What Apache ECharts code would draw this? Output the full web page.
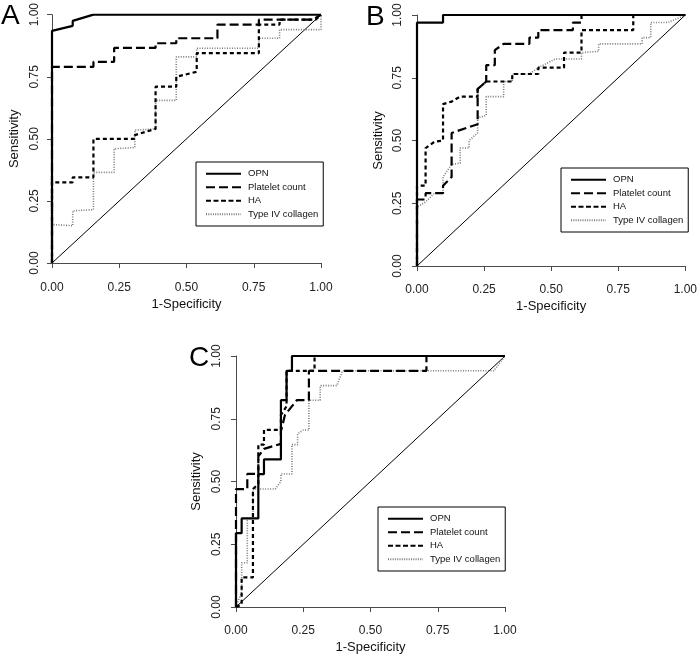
<!DOCTYPE html>
<html><head><meta charset="utf-8">
<script src="https://cdn.jsdelivr.net/npm/echarts@6/dist/echarts.min.js"></script>
<style>html,body{margin:0;padding:0;background:#fff}#c{width:700px;height:656px}</style>
</head><body><div id="c"></div>
<script>
const seriesNames = ['OPN', 'Platelet count', 'HA', 'Type IV collagen'];
const panelLetters = ['A', 'B', 'C'];
const xTitle = '1-Specificity';
const yTitle = 'Sensitivity';
const refLine = [[0, 0], [1, 1]];

// Panel A
const A_OPN = [[0,0],[0,0.935],[0.077,0.955],[0.077,0.975],[0.154,1],[1,1]];
const A_PLT = [[0,0],[0,0.79],[0.154,0.79],[0.154,0.81],[0.231,0.81],[0.231,0.866],[0.385,0.866],[0.385,0.885],[0.462,0.885],[0.462,0.905],[0.615,0.905],[0.615,0.96],[0.769,0.96],[0.769,0.98],[0.97,0.98],[1,1]];
const A_HA = [[0,0],[0,0.325],[0.077,0.325],[0.077,0.345],[0.154,0.345],[0.154,0.5],[0.308,0.5],[0.308,0.515],[0.385,0.54],[0.385,0.71],[0.462,0.71],[0.462,0.75],[0.538,0.77],[0.538,0.845],[0.769,0.845],[0.769,0.96],[0.846,0.96],[0.846,0.98],[0.98,0.98],[1,1]];
const A_T4 = [[0,0],[0,0.155],[0.077,0.15],[0.077,0.21],[0.154,0.215],[0.154,0.365],[0.231,0.365],[0.231,0.46],[0.308,0.465],[0.308,0.535],[0.385,0.54],[0.385,0.655],[0.462,0.655],[0.462,0.83],[0.538,0.83],[0.538,0.865],[0.769,0.865],[0.769,0.905],[0.846,0.905],[0.846,0.94],[1,0.94],[1,1]];

// Panel B
const B_OPN = [[0,0],[0,0.97],[0.097,0.97],[0.097,1],[1,1]];
const B_PLT = [[0,0],[0,0.265],[0.032,0.265],[0.032,0.29],[0.097,0.29],[0.097,0.32],[0.129,0.355],[0.129,0.53],[0.226,0.565],[0.226,0.705],[0.258,0.735],[0.258,0.8],[0.29,0.8],[0.29,0.86],[0.323,0.885],[0.419,0.885],[0.419,0.91],[0.452,0.91],[0.452,0.94],[0.581,0.94],[0.581,0.97],[0.613,0.97],[0.613,1],[1,1]];
const B_HA = [[0,0],[0,0.32],[0.032,0.32],[0.032,0.47],[0.065,0.495],[0.097,0.5],[0.097,0.645],[0.129,0.655],[0.161,0.675],[0.226,0.675],[0.226,0.705],[0.258,0.735],[0.355,0.735],[0.355,0.765],[0.452,0.765],[0.452,0.79],[0.548,0.79],[0.548,0.85],[0.613,0.85],[0.613,0.94],[0.806,0.94],[0.806,1],[1,1]];
const B_T4 = [[0,0],[0,0.235],[0.032,0.255],[0.065,0.29],[0.097,0.29],[0.097,0.355],[0.129,0.405],[0.161,0.41],[0.161,0.47],[0.194,0.47],[0.194,0.5],[0.226,0.53],[0.226,0.59],[0.258,0.6],[0.258,0.675],[0.323,0.675],[0.323,0.735],[0.355,0.735],[0.355,0.765],[0.419,0.765],[0.452,0.79],[0.516,0.825],[0.613,0.825],[0.613,0.85],[0.677,0.855],[0.677,0.885],[0.839,0.885],[0.839,0.91],[0.871,0.91],[0.871,0.97],[0.935,0.97],[1,1]];

// Panel C
const C_OPN = [[0,0],[0,0.294],[0.021,0.294],[0.021,0.353],[0.083,0.353],[0.083,0.529],[0.104,0.529],[0.104,0.588],[0.167,0.588],[0.167,0.824],[0.188,0.824],[0.188,0.941],[0.208,0.941],[0.208,1],[1,1]];
const C_PLT = [[0,0],[0,0.47],[0.042,0.47],[0.042,0.53],[0.083,0.53],[0.083,0.6],[0.104,0.63],[0.167,0.65],[0.167,0.7],[0.182,0.765],[0.226,0.824],[0.271,0.824],[0.271,0.941],[0.708,0.941],[0.708,1],[1,1]];
const C_HA = [[0,0],[0.021,0.01],[0.021,0.118],[0.063,0.118],[0.063,0.47],[0.083,0.49],[0.083,0.647],[0.104,0.647],[0.104,0.706],[0.167,0.706],[0.167,0.765],[0.188,0.8],[0.188,0.941],[0.292,0.941],[0.292,1],[1,1]];
const C_T4 = [[0,0],[0.021,0.06],[0.021,0.176],[0.042,0.176],[0.042,0.353],[0.063,0.353],[0.063,0.47],[0.146,0.47],[0.167,0.5],[0.167,0.53],[0.208,0.53],[0.208,0.647],[0.229,0.647],[0.229,0.69],[0.25,0.705],[0.271,0.705],[0.271,0.824],[0.313,0.824],[0.313,0.882],[0.375,0.882],[0.396,0.941],[0.958,0.941],[1,1]];

const panelData = [
  [A_OPN, A_PLT, A_HA, A_T4],
  [B_OPN, B_PLT, B_HA, B_T4],
  [C_OPN, C_PLT, C_HA, C_T4]
];

const FONT = 'Liberation Sans, Arial, Helvetica, sans-serif';
const grids = [
  {left: 52, top: 12, width: 269, height: 251},
  {left: 417, top: 15, width: 270, height: 251},
  {left: 236, top: 356, width: 269, height: 251}
];
const axOff = [{x: 10, y: 5, m: 6, g: 26}, {x: 9, y: 4, m: 9, g: 28}, {x: 9, y: 5, m: 8, g: 28}];
const legendPos = [{left: 196, top: 162}, {left: 561, top: 168}, {left: 378, top: 507}];
const letterPos = [{left: 1, top: 2}, {left: 366, top: 3}, {left: 189, top: 344}];

const styles = [
  {color: '#000', width: 2.2, type: 'solid'},
  {color: '#000', width: 2.2, type: [9, 4]},
  {color: '#000', width: 2.2, type: [4, 3]},
  {color: '#7a7a7a', width: 1.6, type: [1, 1.5]}
];

// legend sample icons (35 x 2 px) mimicking each line pattern
function dashPath(dash, gap, h) {
  let p = '', x = 0;
  while (x < 35 - 0.01) {
    const w = Math.min(dash, 35 - x);
    p += 'M' + x.toFixed(2) + ',0h' + w.toFixed(2) + 'v' + h + 'h-' + w.toFixed(2) + 'z';
    x += dash + gap;
  }
  return 'path://' + p;
}
const legendIcons = [
  dashPath(35, 0, 2),
  dashPath(9, 4, 2),
  dashPath(5, 2.5, 2),
  dashPath(1, 1.3, 2)
];

const axisColor = '#4a4a4a';
function mkX(i) {
  return {
    type: 'value', gridIndex: i, min: 0, max: 1, interval: 0.25, offset: axOff[i].x,
    name: xTitle, nameLocation: 'middle', nameGap: 25,
    nameTextStyle: {fontSize: 13, color: '#111', fontFamily: FONT},
    axisLine: {show: true, lineStyle: {color: axisColor, width: 1}},
    axisTick: {show: true, length: 5, lineStyle: {color: axisColor}},
    axisLabel: {fontSize: 12, color: '#222', fontFamily: FONT, margin: 9, formatter: v => v.toFixed(2)},
    splitLine: {show: false}
  };
}
function mkY(i) {
  return {
    type: 'value', gridIndex: i, min: 0, max: 1, interval: 0.25, offset: axOff[i].y,
    name: yTitle, nameLocation: 'middle', nameGap: axOff[i].g,
    nameTextStyle: {fontSize: 13, color: '#111', fontFamily: FONT},
    axisLine: {show: true, lineStyle: {color: axisColor, width: 1}},
    axisTick: {show: true, length: 5, lineStyle: {color: axisColor}},
    axisLabel: {fontSize: 12, color: '#222', fontFamily: FONT, margin: axOff[i].m, rotate: 90, formatter: v => v.toFixed(2)},
    splitLine: {show: false}
  };
}

const series = [];
panelData.forEach((curves, i) => {
  series.push({
    type: 'line', xAxisIndex: i, yAxisIndex: i, data: refLine, symbol: 'none',
    silent: true, lineStyle: {color: '#000', width: 1}, z: 1
  });
  curves.forEach((d, k) => {
    series.push({
      name: seriesNames[k], type: 'line', xAxisIndex: i, yAxisIndex: i, data: d,
      symbol: 'none', color: styles[k].color,
      itemStyle: {color: styles[k].color},
      lineStyle: {color: styles[k].color, width: styles[k].width, type: styles[k].type},
      z: 5 - k
    });
  });
});

const legends = legendPos.map(p => ({
  data: seriesNames.map((n, k) => ({name: n, icon: legendIcons[k]})),
  left: p.left, top: p.top, orient: 'vertical',
  borderColor: '#000', borderWidth: 1, padding: [5, 5, 5, 10],
  itemWidth: 35, itemHeight: 2, itemGap: 0, selectedMode: false,
  textStyle: {fontSize: 9.5, lineHeight: 13.5, color: '#111', fontFamily: FONT, padding: [0, 0, 0, 2]}
}));

const graphic = panelLetters.map((t, i) => ({
  type: 'text', left: letterPos[i].left, top: letterPos[i].top,
  style: {text: t, fontSize: 28, fontFamily: FONT, fill: '#000'}
}));

const chart = echarts.init(document.getElementById('c'));
chart.setOption({
  animation: false,
  backgroundColor: '#fff',
  grid: grids,
  xAxis: [0, 1, 2].map(mkX),
  yAxis: [0, 1, 2].map(mkY),
  legend: legends,
  graphic: graphic,
  series: series
});
</script></body></html>
